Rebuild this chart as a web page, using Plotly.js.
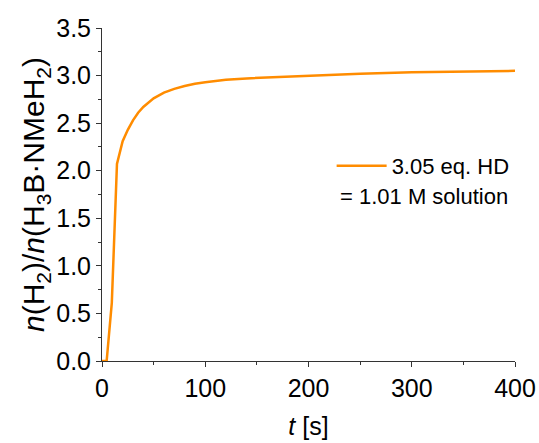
<!DOCTYPE html>
<html>
<head>
<meta charset="utf-8">
<script src="https://cdn.plot.ly/plotly-3.0.1.min.js"></script>
<style>html,body{margin:0;padding:0;background:#fff;}#chart{width:539px;height:443px;}</style>
</head>
<body>
<div id="chart"></div>
<script>
const timeS = [0, 4.5, 9.5, 14.5, 20, 25, 30, 35, 40, 50, 60, 70, 80, 90, 100, 120, 140, 160, 180, 200, 250, 300, 350, 400];
const ratioH2 = [0, 0, 0.61, 2.07, 2.31, 2.43, 2.53, 2.61, 2.67, 2.76, 2.82, 2.86, 2.89, 2.915, 2.93, 2.955, 2.97, 2.98, 2.99, 3.0, 3.02, 3.035, 3.045, 3.05];
const seriesName = "3.05 eq. HD";
const noteText = "= 1.01 M solution";
const xTicks = [0, 100, 200, 300, 400];
const yTicks = [0, 0.5, 1.0, 1.5, 2.0, 2.5, 3.0, 3.5];

const font = "Liberation Sans, Arial, sans-serif";
const trace = {
  x: timeS, y: ratioH2, type: "scatter", mode: "lines", name: seriesName,
  line: {color: "#ff8c00", width: 2.5}
};
const layout = {
  width: 539, height: 443,
  margin: {l: 102, r: 24, t: 28, b: 82},
  paper_bgcolor: "#fff", plot_bgcolor: "#fff",
  font: {family: font, color: "#000"},
  showlegend: true,
  legend: {x: 0.556, y: 0.586, xanchor: "left", yanchor: "middle", bgcolor: "rgba(0,0,0,0)",
    font: {size: 22, family: font}, itemwidth: 50, tracegroupgap: 0},
  xaxis: {
    range: [0, 400], tickvals: xTicks, ticktext: xTicks.map(String),
    showgrid: false, zeroline: false, showline: true, linecolor: "#333", linewidth: 1,
    ticks: "outside", ticklen: 5, tickcolor: "#333", tickwidth: 1,
    minor: {dtick: 50, ticks: "outside", ticklen: 3, tickcolor: "#333", showgrid: false},
    tickfont: {size: 25, family: font},
    title: {text: "<i>t</i> [s]", font: {size: 25, family: font}, standoff: 16}
  },
  yaxis: {
    range: [0, 3.5], tickvals: yTicks, ticktext: yTicks.map(v => v.toFixed(1)),
    showgrid: false, zeroline: false, showline: true, linecolor: "#333", linewidth: 1,
    ticks: "outside", ticklen: 5, tickcolor: "#333", tickwidth: 1,
    minor: {dtick: 0.25, ticks: "outside", ticklen: 3, tickcolor: "#333", showgrid: false},
    tickfont: {size: 25, family: font},
    title: {text: "<i>n</i>(H<sub>2</sub>)/<i>n</i>(H<sub>3</sub>B·NMeH<sub>2</sub>)", font: {size: 30, family: font}, standoff: 2}
  },
  annotations: [{
    text: noteText, xref: "paper", yref: "paper", x: 0.571, y: 0.4925, xanchor: "left", yanchor: "middle",
    showarrow: false, font: {size: 22, family: font}
  }]
};
Plotly.newPlot("chart", [trace], layout, {displayModeBar: false, staticPlot: true});
</script>
</body>
</html>
